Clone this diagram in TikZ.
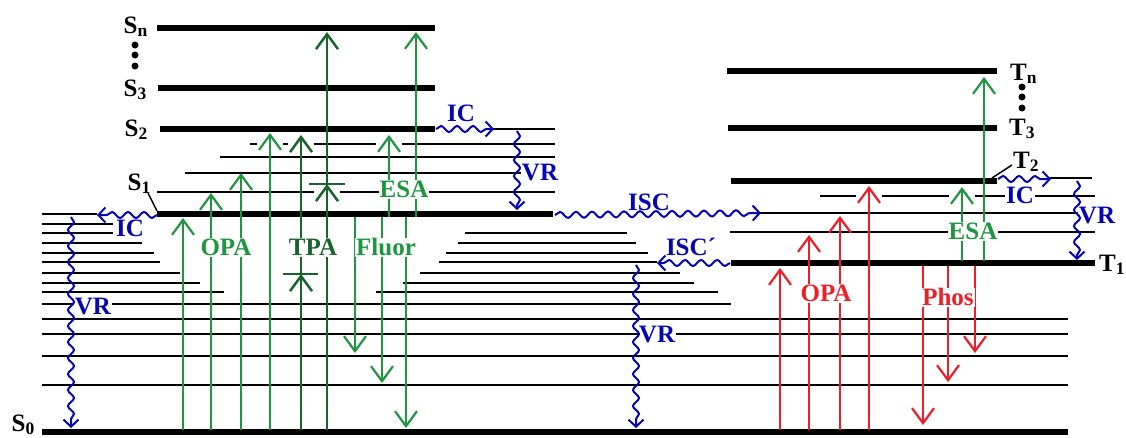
\documentclass[tikz,border=0pt]{standalone}
\usepackage{fontspec}
\setmainfont{Liberation Serif}
\usetikzlibrary{arrows.meta,decorations.pathmorphing}
\definecolor{grn}{RGB}{30,150,64}
\definecolor{dgrn}{RGB}{25,100,45}
\definecolor{rd}{RGB}{238,30,40}
\definecolor{blu}{RGB}{5,5,180}
\begin{document}
\begin{tikzpicture}[x=1pt,y=-1pt,
  thicklevel/.style={line width=5.5pt},
  thinlevel/.style={line width=2pt},
  bigtip/.style={-{Straight Barb[length=15pt,width=22pt]}},
  garrow/.style={grn, line width=2.2pt, bigtip},
  tarrow/.style={dgrn, line width=2.5pt, bigtip},
  rarrow/.style={rd, line width=2.2pt, bigtip},
  wavy/.style={blu, line width=2pt, decorate,
    decoration={snake,amplitude=3pt,segment length=16pt,post length=5pt},
    -{Straight Barb[length=7pt,width=15pt]}},
  lbl/.style={font=\fontsize{25}{25}\selectfont\bfseries, inner sep=1pt},
  wlbl/.style={lbl, fill=white, text height=17pt, text depth=0pt},
]
\useasboundingbox (0,0) rectangle (1126,437);

% ---------- singlet thick levels
\draw[thicklevel] (157,28) -- (435,28);
\draw[thicklevel] (158,88) -- (435,88);
\draw[thicklevel] (160,129) -- (435,129);
\draw[thicklevel] (157,214) -- (553,214);
\draw[thicklevel] (42,432) -- (1068,432);

% ---------- S1 vibrational levels
\draw[thinlevel] (157,192) -- (555,192);
\draw[thinlevel] (185,173) -- (555,173);
\draw[thinlevel] (220,157) -- (555,157);
\draw[thinlevel] (250,144) -- (555,144);
\draw[thinlevel] (493,129) -- (555,129);

% ---------- S0 vibrational levels (left staircase)
\draw[thinlevel] (42,214) -- (97,214);
\draw[thinlevel] (42,224) -- (113,224);
\draw[thinlevel] (42,233) -- (113,233);
\draw[thinlevel] (42,243) -- (142,243);
\draw[thinlevel] (42,253) -- (154,253);
\draw[thinlevel] (42,262) -- (160,262);
\draw[thinlevel] (42,273) -- (180,273);
\draw[thinlevel] (42,283) -- (200,283);
\draw[thinlevel] (42,292) -- (224,292);
\draw[thinlevel] (42,304) -- (731,304);
\foreach \y in {319,334,356,385} \draw[thinlevel] (42,\y) -- (1068,\y);

% ---------- middle staircase
\draw[thinlevel] (465,233) -- (627,233);
\draw[thinlevel] (458,243) -- (636,243);
\draw[thinlevel] (446,253) -- (648,253);
\draw[thinlevel] (439,262) -- (657,262);
\draw[thinlevel] (420,273) -- (680,273);
\draw[thinlevel] (403,283) -- (694,283);
\draw[thinlevel] (376,292) -- (718,292);

% ---------- triplet levels
\draw[thicklevel] (727,71) -- (997,71);
\draw[thicklevel] (728,128) -- (997,128);
\draw[thicklevel] (731,181) -- (997,181);
\draw[thicklevel] (731,263) -- (1095,263);
\draw[thinlevel] (820,196) -- (1095,196);
\draw[thinlevel] (760,213) -- (1095,213);
\draw[thinlevel] (730,232) -- (1095,232);
\draw[thinlevel] (1050,178) -- (1092,178);

% ---------- gaps under arrow heads
\foreach \x/\y in {270/133, 301/135, 389/135, 327/184, 869/186, 962/187}
  \fill[white] (\x-13,\y+4) rectangle (\x+13,\y+17);

% ---------- OPA (singlet)
\draw[garrow] (183,430) -- (183,218);
\draw[garrow] (211,430) -- (211,193);
\draw[garrow] (241,430) -- (241,173);
\draw[garrow] (270,430) -- (270,133);

% ---------- TPA
\draw[tarrow] (301,430) -- (301,274);
\draw[tarrow] (301,274) -- (301,135);
\draw[tarrow] (327,430) -- (327,184);
\draw[tarrow] (327,184) -- (327,32);
\draw[dgrn, line width=2.5pt] (283,274) -- (318,274);
\draw[dgrn, line width=2.5pt] (309,184) -- (345,184);

% ---------- Fluorescence
\draw[garrow] (355,217) -- (355,353);
\draw[garrow] (382,217) -- (382,383);
\draw[garrow] (406,217) -- (406,428);

% ---------- ESA (singlet)
\draw[garrow] (389,217) -- (389,135);
\draw[garrow] (416,217) -- (416,32);

% ---------- OPA (triplet, red)
\draw[rarrow] (780,430) -- (780,268);
\draw[rarrow] (809,430) -- (809,235);
\draw[rarrow] (840,430) -- (840,216);
\draw[rarrow] (869,430) -- (869,186);

% ---------- Phosphorescence
\draw[rarrow] (923,266) -- (923,425);
\draw[rarrow] (948,266) -- (948,382);
\draw[rarrow] (975,266) -- (975,353);

% ---------- ESA (triplet)
\draw[garrow] (962,261) -- (962,187);
\draw[garrow] (984,261) -- (984,77);

% ---------- process labels
\node[wlbl, text=grn] (lopa) at (226,247) {OPA};
\node[wlbl, text=dgrn] (ltpa) at (313,247) {TPA};
\node[wlbl, text=grn] (lfluor) at (386,247) {Fluor};
\node[wlbl, text=grn] (lesa) at (404,189) {ESA};
\node[wlbl, text=rd] (ropa) at (826,293) {OPA};
\node[wlbl, text=rd] (rphos) at (948,297) {Phos};
\node[wlbl, text=grn] (resa) at (973,231) {ESA};

\node[wlbl, text=blu] (icl) at (130,228) {IC};
\node[wlbl, text=blu] (vrl) at (93,306) {VR};
\node[wlbl, text=blu] (icu) at (461,113) {IC};
\node[wlbl, text=blu] (vru) at (540,172) {VR};
\node[wlbl, text=blu] (isc) at (649,202) {ISC};
\node[wlbl, text=blu] (iscp) at (691,247) {ISC´};
\node[wlbl, text=blu] (vrm) at (657,334) {VR};
\node[wlbl, text=blu] (icr) at (1020,195) {IC};
\node[wlbl, text=blu] (vrr) at (1097,215) {VR};

% ---------- wavy non-radiative transitions
\draw[wavy] (157,215) -- (97,215);
\draw[wavy] (71,217) -- (71,428);
\draw[wavy] (436,129) -- (494,129);
\draw[wavy] (517,131) -- (517,210);
\draw[wavy] (555,215) -- (761,213);
\draw[wavy] (730,263) -- (657,263);
\draw[wavy] (636,265) -- (636,428);
\draw[wavy] (998,179) -- (1051,179);
\draw[wavy] (1077,181) -- (1077,260);

% ---------- state labels
\node[lbl, anchor=base east] (sn) at (149,33) {S\textsubscript{n}};
\node[lbl, anchor=base east] (s3) at (148,96) {S\textsubscript{3}};
\node[lbl, anchor=base east] (s2) at (149,136) {S\textsubscript{2}};
\node[lbl, anchor=base east] (s1) at (152,190) {S\textsubscript{1}};
\node[lbl, anchor=base east] (s0) at (36,431) {S\textsubscript{0}};
\node[lbl, anchor=base west] (tn) at (1009,80) {T\textsubscript{n}};
\node[lbl, anchor=base west] (t3) at (1008,135) {T\textsubscript{3}};
\node[lbl, anchor=base west] (t2) at (1012,168) {T\textsubscript{2}};
\node[lbl, anchor=base west] (t1) at (1098,271) {T\textsubscript{1}};

\draw[line width=1.5pt] (148,193) -- (157,211);
\draw[line width=1.5pt] (992,178) -- (1012,165);

\foreach \y in {45,55,66} \fill (135,\y) circle (3.5);
\foreach \y in {87,97,108} \fill (1022,\y) circle (3.5);
\end{tikzpicture}
\end{document}
